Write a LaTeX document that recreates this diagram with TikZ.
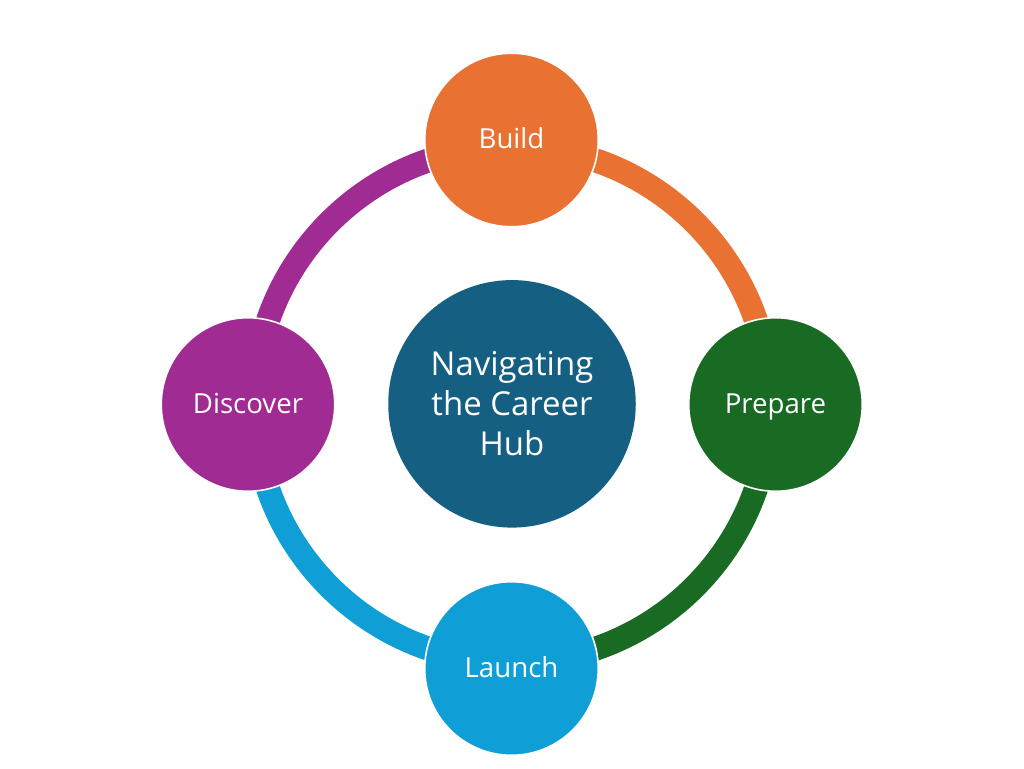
\documentclass[tikz,border=0pt]{standalone}
\usepackage{fontspec}
\setmainfont{Open Sans}
\definecolor{corange}{HTML}{E97132}
\definecolor{cgreen}{HTML}{196B24}
\definecolor{cblue}{HTML}{0F9ED5}
\definecolor{cpurple}{HTML}{A02B93}
\definecolor{cnavy}{HTML}{156082}
\tikzset{
  px/.style={x=0.0264583cm,y=-0.0264583cm},
  hub/.style={circle,draw=white,line width=1.2pt,text=white,align=center,inner sep=0pt,minimum size=173.5*0.0264583cm,text height=16.5pt,text depth=3.5pt,font=\fontsize{20.8}{25}\selectfont},
  mid/.style={circle,text=white,align=center,inner sep=0pt,fill=cnavy,minimum size=247.5*0.0264583cm,font=\fontsize{24.8}{30}\selectfont},
  ring/.style={line width=24*0.0264583cm,line cap=butt}
}
\begin{document}
\begin{tikzpicture}[px]
\useasboundingbox (0,0) rectangle (1024,768);
\fill[white] (0,0) rectangle (1024,768);
\coordinate (c) at (512,404.5);
\coordinate (tb) at (511.5,140);
\coordinate (tp) at (775.5,404.5);
\coordinate (tl) at (511.5,668.5);
\coordinate (td) at (248,404.5);
\draw[ring,corange] (c) ++(-90:258) arc[start angle=-90,end angle=0,radius=258];
\draw[ring,cgreen] (c) ++(0:258) arc[start angle=0,end angle=90,radius=258];
\draw[ring,cblue] (c) ++(90:258) arc[start angle=90,end angle=180,radius=258];
\draw[ring,cpurple] (c) ++(180:258) arc[start angle=180,end angle=270,radius=258];
\node[mid] (hub) at ([yshift=0.5pt]c) {Navigating\\the Career\\Hub};
\node[hub,fill=corange] (build) at (tb) {Build};
\node[hub,fill=cgreen] (prepare) at (tp) {Prepare};
\node[hub,fill=cblue] (launch) at (tl) {Launch};
\node[hub,fill=cpurple] (discover) at (td) {Discover};
\end{tikzpicture}
\end{document}
